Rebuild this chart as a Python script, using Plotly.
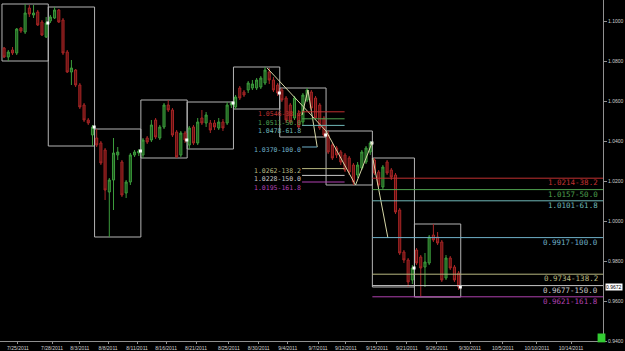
import plotly.graph_objects as go

# ---------------- data (12-hour candles, index = bar number) ----------------
opens = [1.0865,1.0820,1.0855,1.0840,1.0965,1.0945,1.1065,1.1030,1.1045,1.0995,1.0920,
         1.1000,1.1015,1.1055,1.1005,1.0845,1.0745,1.0755,1.0680,1.0580,1.0505,1.0430,
         1.0415,1.0390,1.0355,1.0145,1.0205,1.0330,1.0295,1.0140,1.0195,1.0330,1.0340,
         1.0330,1.0415,1.0405,1.0505,1.0415,1.0470,1.0580,1.0555,1.0445,1.0330,1.0440,
         1.0380,1.0470,1.0390,1.0515,1.0490,1.0490,1.0490,1.0465,1.0495,1.0490,1.0580,
         1.0570,1.0665,1.0645,1.0655,1.0665,1.0665,1.0670,1.0690,1.0745,1.0705,1.0680,
         1.0655,1.0615,1.0580,1.0515,1.0540,1.0495,1.0605,1.0645,1.0615,1.0580,1.0515,
         1.0430,1.0380,1.0365,1.0345,1.0330,1.0315,1.0280,1.0230,1.0265,1.0295,1.0345,
         1.0305,1.0245,1.0170,1.0295,1.0255,1.0230,1.0055,0.9845,0.9805,0.9705,
         0.9855,0.9820,0.9770,0.9790,0.9930,0.9920,0.9895,0.9715,0.9815,0.9770,0.9740]
highs = [1.0870,1.0855,1.0870,1.0965,1.0970,1.1085,1.1080,1.1080,1.1055,1.1005,1.1020,
         1.1030,1.1070,1.1060,1.1015,1.0855,1.0805,1.0760,1.0690,1.0590,1.0515,1.0480,
         1.0460,1.0400,1.0365,1.0215,1.0415,1.0370,1.0305,1.0205,1.0340,1.0355,1.0360,
         1.0415,1.0425,1.0505,1.0515,1.0480,1.0590,1.0605,1.0565,1.0455,1.0450,1.0450,
         1.0475,1.0480,1.0515,1.0555,1.0545,1.0505,1.0505,1.0515,1.0510,1.0595,1.0595,
         1.0630,1.0675,1.0655,1.0700,1.0705,1.0715,1.0725,1.0770,1.0765,1.0720,1.0690,
         1.0665,1.0625,1.0590,1.0625,1.0555,1.0640,1.0665,1.0655,1.0625,1.0590,1.0525,
         1.0450,1.0390,1.0375,1.0355,1.0340,1.0325,1.0290,1.0295,1.0355,1.0375,1.0400,
         1.0315,1.0255,1.0280,1.0305,1.0265,1.0240,1.0065,0.9855,0.9815,0.9780,
         0.9865,0.9830,0.9840,0.9930,0.9985,0.9945,0.9905,0.9830,0.9825,0.9780,0.9750]
lows  = [1.0815,1.0800,1.0830,1.0830,1.0940,1.0935,1.1020,1.1015,1.0975,1.0925,1.0915,
         1.0990,1.1010,1.0990,1.0830,1.0740,1.0680,1.0670,1.0560,1.0495,1.0480,1.0375,
         1.0370,1.0280,1.0105,0.9920,1.0055,1.0305,1.0120,1.0115,1.0180,1.0320,1.0325,
         1.0315,1.0385,1.0395,1.0410,1.0405,1.0460,1.0545,1.0420,1.0315,1.0320,1.0390,
         1.0360,1.0380,1.0380,1.0480,1.0470,1.0440,1.0455,1.0455,1.0450,1.0480,1.0565,
         1.0560,1.0605,1.0620,1.0640,1.0655,1.0655,1.0660,1.0680,1.0685,1.0645,1.0625,
         1.0595,1.0490,1.0485,1.0505,1.0460,1.0480,1.0595,1.0555,1.0505,1.0455,1.0420,
         1.0335,1.0305,1.0315,1.0280,1.0245,1.0230,1.0180,1.0215,1.0255,1.0285,1.0330,
         1.0230,1.0170,1.0160,1.0230,1.0205,1.0035,0.9830,0.9790,0.9670,0.9685,
         0.9780,0.9620,0.9670,0.9780,0.9895,0.9880,0.9695,0.9705,0.9755,0.9695,0.9655]
closes = [1.0820,1.0845,1.0840,1.0960,1.0950,1.1040,1.1035,1.1040,1.0980,1.0930,1.0990,
          1.1020,1.1055,1.0995,1.0840,1.0745,1.0765,1.0680,1.0570,1.0505,1.0490,1.0470,
          1.0380,1.0290,1.0155,1.0205,1.0340,1.0345,1.0130,1.0195,1.0330,1.0345,1.0350,
          1.0405,1.0395,1.0480,1.0420,1.0470,1.0580,1.0555,1.0430,1.0320,1.0440,1.0405,
          1.0465,1.0390,1.0495,1.0490,1.0530,1.0455,1.0470,1.0495,1.0465,1.0580,1.0590,
          1.0620,1.0615,1.0630,1.0690,1.0685,1.0705,1.0715,1.0755,1.0705,1.0655,1.0640,
          1.0605,1.0505,1.0495,1.0615,1.0470,1.0630,1.0655,1.0565,1.0515,1.0465,1.0430,
          1.0345,1.0315,1.0330,1.0295,1.0255,1.0245,1.0195,1.0280,1.0345,1.0365,1.0390,
          1.0240,1.0180,1.0270,1.0240,1.0220,1.0045,0.9840,0.9805,0.9695,0.9765,
          0.9790,0.9765,0.9795,0.9920,0.9905,0.9890,0.9705,0.9815,0.9765,0.9705,0.9670]

# weekly boxes: first and last bar of each week
week_first = [0, 11, 22, 33, 44, 55, 66, 77, 88, 98]
week_last  = [10, 21, 32, 43, 54, 65, 76, 87, 97, 108]

# Fibonacci projections
fib_left_vals   = [1.0546, 1.0511, 1.0478, 1.0370, 1.0262, 1.0228, 1.0195]
fib_right_vals  = [1.0214, 1.0157, 1.0101, 0.9917, 0.9734, 0.9677, 0.9621]
fib_pcts        = ["38.2", "50.0", "61.8", "100.0", "138.2", "150.0", "161.8"]
fib_colors      = ["#c03030", "#4fa04f", "#6fb8b8", "#6fb0c8", "#b8b880", "#c8c8c8", "#b040b0"]

# zig-zag swing lines (bar, price)
zz1_x = [62.5, 76.5, 83.5, 87.5]
zz1_y = [1.0765, 1.0450, 1.0180, 1.0395]
zz2_x = [70.8, 72.2, 74.4]
zz2_y = [1.0530, 1.0655, 1.0370]
zz3_x = [87.6, 91.2]
zz3_y = [1.0315, 0.9915]

tick_pos = [3.3, 11.4, 18.0, 24.7, 31.6, 38.5, 45.6, 53.4, 60.5, 67.4,
            74.6, 81.2, 88.6, 95.7, 102.8, 110.7, 118.5, 126.6, 134.7]
tick_txt = ["7/25/2011", "7/28/2011", "8/3/2011", "8/8/2011", "8/11/2011",
            "8/16/2011", "8/21/2011", "8/25/2011", "8/30/2011", "9/4/2011",
            "9/7/2011", "9/12/2011", "9/15/2011", "9/21/2011", "9/26/2011",
            "9/30/2011", "10/5/2011", "10/10/2011", "10/14/2011"]
ytick_vals = [0.94, 0.96, 0.98, 1.00, 1.02, 1.04, 1.06, 1.08, 1.10]
last_price = 0.9672

X0, X1 = -0.97, 142.3
Y0, Y1 = 0.9400, 1.1105

# ---------------- figure ----------------
idx = list(range(len(opens)))
fig = go.Figure()
fig.add_trace(go.Candlestick(
    x=idx, open=opens, high=highs, low=lows, close=closes,
    increasing=dict(line=dict(color="#3c9c3c", width=1), fillcolor="#1d561d"),
    decreasing=dict(line=dict(color="#a82626", width=1), fillcolor="#5c1010"),
    whiskerwidth=0, showlegend=False, hoverinfo="skip"))

shapes = []
annotations = []
box_line = dict(color="#b4b4b4", width=1)
dot_x, dot_y = [], []
for a, b in zip(week_first, week_last):
    hi = max(highs[a:b + 1])
    lo = min(lows[a:b + 1])
    shapes.append(dict(type="rect", xref="x", yref="y", x0=a - 0.5, x1=b + 0.5,
                       y0=lo, y1=hi, line=box_line, fillcolor="rgba(0,0,0,0)", layer="below"))
    dot_x.append(b + 0.4)
    dot_y.append(closes[b])

fig.add_trace(go.Scatter(x=dot_x, y=dot_y, mode="markers",
                         marker=dict(color="#ffffff", size=3, symbol="square"),
                         showlegend=False, hoverinfo="skip"))

for xs, ys in [(zz1_x, zz1_y), (zz2_x, zz2_y), (zz3_x, zz3_y)]:
    fig.add_trace(go.Scatter(x=xs, y=ys, mode="lines",
                             line=dict(color="#d6d6a6", width=1),
                             showlegend=False, hoverinfo="skip"))

font_fib = "DejaVu Sans Mono"
left_shift = [3, 1, -1, 2, 3, 1, -1]   # small spread so the tight triplets stay legible
for v, p, c, sh in zip(fib_left_vals, fib_pcts, fib_colors, left_shift):
    x_start, x_end = 70.8, 80.9
    if p == "100.0":
        x_end = 74.4
    shapes.append(dict(type="line", xref="x", yref="y", x0=x_start, x1=x_end, y0=v, y1=v,
                       line=dict(color=c, width=1)))
    annotations.append(dict(x=x_start, y=v, xref="x", yref="y", text=f"{v:.4f}-{p}",
                            showarrow=False, xanchor="right", yanchor="top", yshift=sh,
                            borderpad=0,
                            font=dict(family=font_fib, size=6.5, color=c)))

for v, p, c in zip(fib_right_vals, fib_pcts, fib_colors):
    shapes.append(dict(type="line", xref="x", yref="y", x0=87.5, x1=X1, y0=v, y1=v,
                       line=dict(color=c, width=1)))
    annotations.append(dict(x=141.3, y=v, xref="x", yref="y", text=f"{v:.4f}-{p}",
                            showarrow=False, xanchor="right", yanchor="top", yshift=1,
                            borderpad=0,
                            font=dict(family=font_fib, size=7.5, color=c)))

# last price tag on the axis
annotations.append(dict(x=1.0, y=last_price, xref="paper", yref="y", text=f"{last_price:.4f}",
                        showarrow=False, xanchor="left", yanchor="middle", xshift=2,
                        bgcolor="#ffffff", font=dict(family="Liberation Sans", size=5, color="#000000"),
                        borderpad=0))

# green status square at the axis corner
shapes.append(dict(type="rect", xref="paper", yref="paper", x0=0.991, x1=1.004, y0=-0.004, y1=0.022,
                   fillcolor="#33cc33", line=dict(width=0)))

tick_font = dict(family="Liberation Sans Narrow, Liberation Sans", size=5, color="#d0d0d0")
fig.update_layout(
    width=625, height=351,
    margin=dict(l=0, r=22, t=0, b=10, autoexpand=False),
    paper_bgcolor="#000000", plot_bgcolor="#000000",
    shapes=shapes, annotations=annotations,
    showlegend=False,
    xaxis=dict(range=[X0, X1], rangeslider=dict(visible=False), showgrid=False,
               zeroline=False, tickmode="array", tickvals=tick_pos, ticktext=tick_txt,
               tickangle=0, automargin=False, tickfont=tick_font,
               ticks="outside", ticklen=2, tickcolor="#909090",
               showline=True, linecolor="#909090", linewidth=1),
    yaxis=dict(range=[Y0, Y1], side="right", showgrid=False, zeroline=False,
               tickmode="array", tickvals=ytick_vals, automargin=False,
               ticktext=[f"{v:.4f}" for v in ytick_vals],
               tickfont=tick_font,
               ticks="outside", ticklen=3, tickcolor="#909090",
               showline=True, linecolor="#909090", linewidth=1),
)

fig.write_html("out.html")
